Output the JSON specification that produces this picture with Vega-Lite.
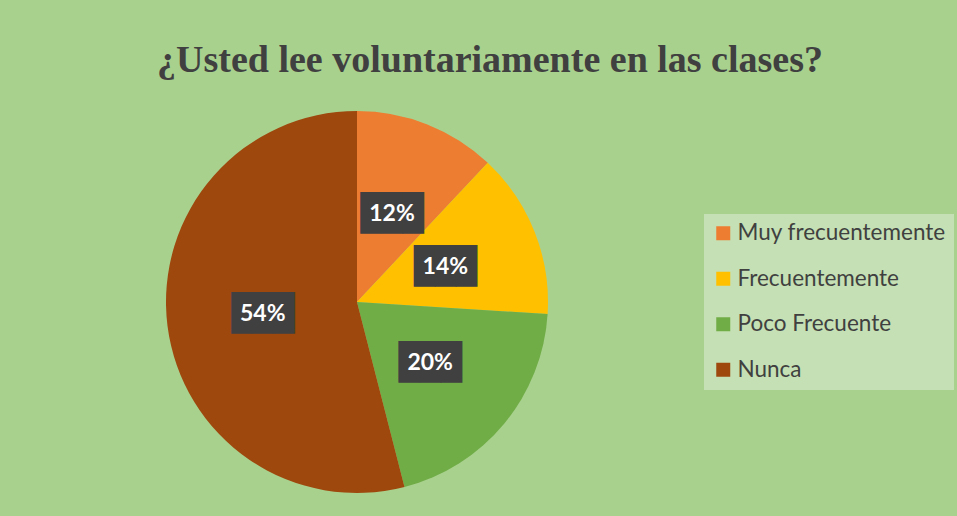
{
  "$schema": "https://vega.github.io/schema/vega-lite/v6.json",
  "autosize": {"type": "none"},
  "width": 702,
  "height": 574,
  "padding": {"left": 6, "top": 15, "right": 249, "bottom": 0},
  "background": "#A9D18E",
  "config": {"view": {"stroke": null}},
  "title": {
    "text": "¿Usted lee voluntariamente en las clases?",
    "font": "Liberation Serif",
    "fontSize": 38,
    "fontWeight": "bold",
    "color": "#404040",
    "anchor": "middle",
    "baseline": "alphabetic",
    "dx": 133,
    "dy": 99
  },
  "data": {
    "values": [
      {"categoria": "Muy frecuentemente", "proporcion": 0.12},
      {"categoria": "Frecuentemente", "proporcion": 0.14},
      {"categoria": "Poco Frecuente", "proporcion": 0.20},
      {"categoria": "Nunca", "proporcion": 0.54}
    ]
  },
  "encoding": {
    "theta": {"field": "proporcion", "type": "quantitative", "stack": true},
    "order": {"field": "proporcion", "type": "quantitative", "sort": "ascending"}
  },
  "layer": [
    {
      "mark": {"type": "arc", "outerRadius": 191, "stroke": null},
      "encoding": {
        "color": {
          "field": "categoria",
          "type": "nominal",
          "scale": {
            "domain": ["Muy frecuentemente", "Frecuentemente", "Poco Frecuente", "Nunca"],
            "range": ["#ED7D31", "#FFC000", "#70AD47", "#9E480E"]
          },
          "legend": {
            "title": null,
            "orient": "none",
            "legendX": 698,
            "legendY": 199,
            "padding": 8,
            "fillColor": "#C5E0B4",
            "strokeColor": null,
            "labelFont": "Lato",
            "labelFontSize": 22.5,
            "labelColor": "#404040",
            "symbolType": "square",
            "symbolSize": 196,
            "symbolStrokeWidth": 0,
            "rowPadding": 22.5,
            "labelOffset": 3,
            "labelLimit": 300
          }
        }
      }
    },
    {
      "mark": {
        "type": "text",
        "text": "███",
        "radius": 95,
        "font": "DejaVu Sans Mono",
        "fontSize": 35,
        "color": "#404040",
        "align": "center",
        "baseline": "middle"
      }
    },
    {
      "mark": {
        "type": "text",
        "radius": 95,
        "font": "Lato",
        "fontSize": 23,
        "fontWeight": "bold",
        "color": "white",
        "align": "center",
        "baseline": "middle"
      },
      "encoding": {
        "text": {"field": "proporcion", "type": "quantitative", "format": ".0%"}
      }
    }
  ]
}
